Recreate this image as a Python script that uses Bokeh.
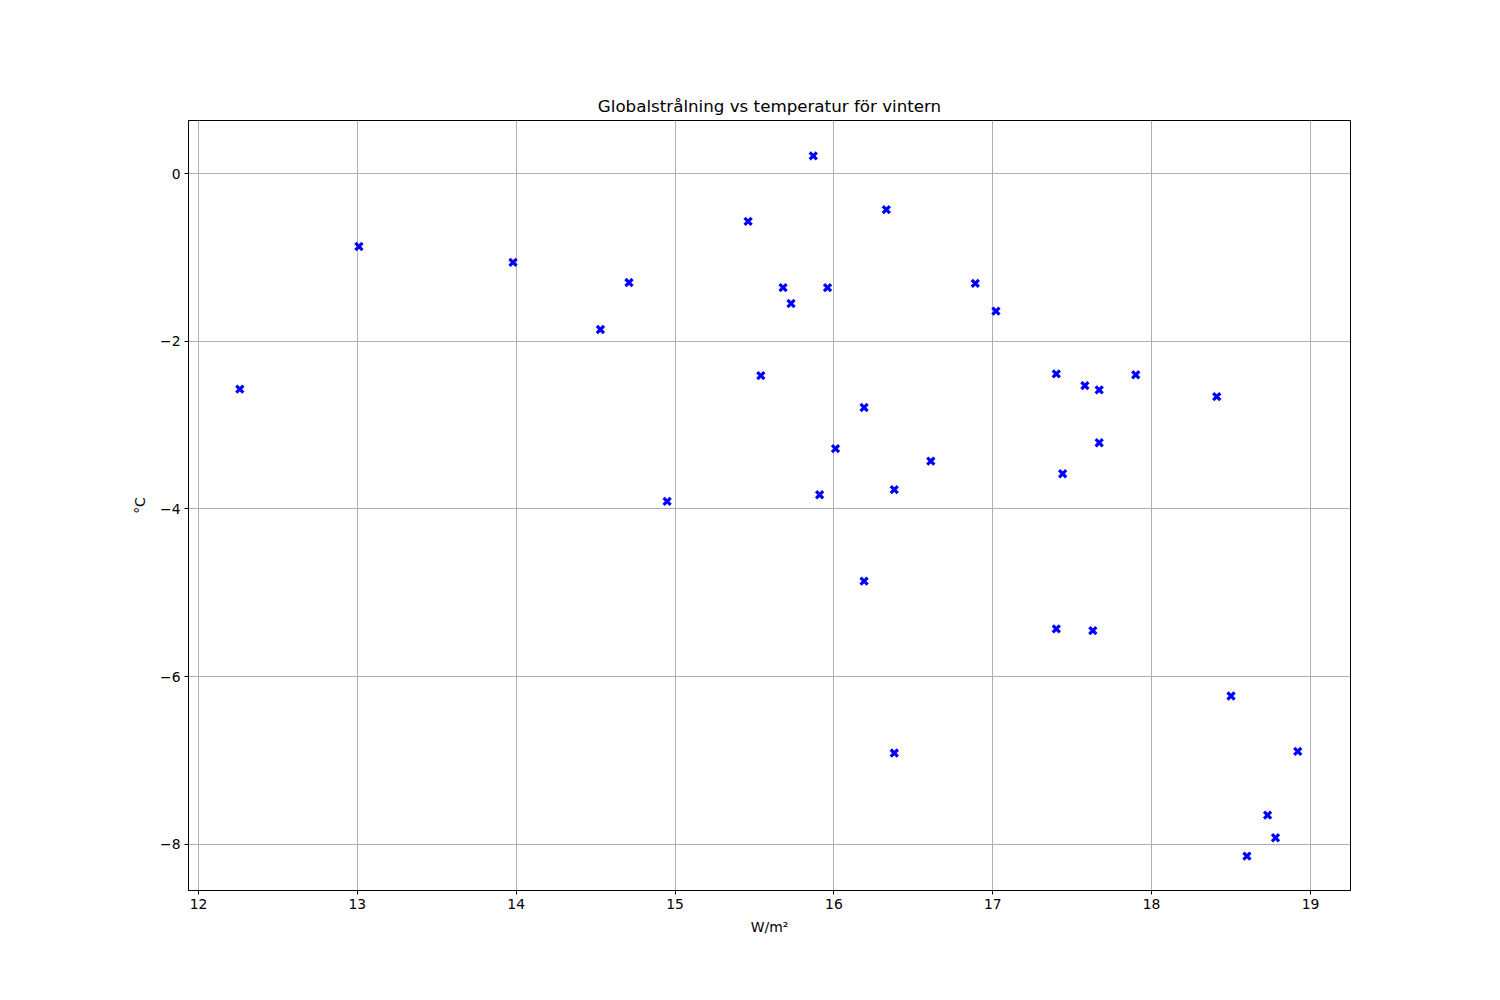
from bokeh.plotting import figure
from bokeh.models import FixedTicker, CustomJSTickFormatter, Range1d, ColumnDataSource
from bokeh.embed import file_html
from bokeh.resources import INLINE

radiation = [12.26, 13.01, 13.98, 14.53, 14.71, 14.95, 15.46, 15.54, 15.68, 15.73,
             15.87, 15.96, 15.91, 16.01, 16.19, 16.19, 16.33, 16.38, 16.38, 16.61,
             16.89, 17.02, 17.40, 17.40, 17.44, 17.58, 17.63, 17.67, 17.67, 17.90,
             18.41, 18.50, 18.73, 18.78, 18.60, 18.92]
temperature = [-2.57, -0.87, -1.06, -1.86, -1.30, -3.91, -0.57, -2.41, -1.36, -1.55,
               0.21, -1.36, -3.83, -3.28, -2.79, -4.86, -0.43, -3.77, -6.91, -3.43,
               -1.31, -1.64, -2.39, -5.43, -3.58, -2.53, -5.45, -2.58, -3.21, -2.40,
               -2.66, -6.23, -7.65, -7.92, -8.14, -6.89]
x_ticks = [12, 13, 14, 15, 16, 17, 18, 19]
y_ticks = [-8, -6, -4, -2, 0]

W, H = 1480, 980
p = figure(width=W, height=H, output_backend="svg", toolbar_location=None,
           x_range=Range1d(11.937, 19.252), y_range=Range1d(-8.549, 0.632),
           min_border_left=188, min_border_right=W - 1350,
           min_border_top=120, min_border_bottom=H - 890)

src = ColumnDataSource(dict(x=radiation, y=temperature))
p.scatter("x", "y", source=src, marker="x", size=10, line_width=3.2, line_color="blue")

p.title.text = "Globalstrålning vs temperatur för vintern"
p.title.align = "center"
p.title.text_font = "DejaVu Sans"
p.title.text_font_size = "16.7px"
p.title.text_font_style = "normal"
p.title.text_color = "black"
p.title.offset = 0

fmt = CustomJSTickFormatter(code="return tick < 0 ? '\u2212' + Math.abs(tick) : tick.toString();")
for ax, ticks, label in ((p.xaxis[0], x_ticks, "W/m²"), (p.yaxis[0], y_ticks, "°C")):
    ax.ticker = FixedTicker(ticks=ticks)
    ax.formatter = fmt
    ax.axis_label = label
    ax.axis_label_text_font = "DejaVu Sans"
    ax.axis_label_text_font_size = "13.9px"
    ax.axis_label_text_font_style = "normal"
    ax.axis_label_text_color = "black"
    ax.major_label_text_font = "DejaVu Sans"
    ax.major_label_text_font_size = "13.9px"
    ax.major_label_text_color = "black"
    ax.axis_line_color = "black"
    ax.major_tick_line_color = "black"
    ax.major_tick_out = 4
    ax.major_tick_in = 0
    ax.minor_tick_line_color = None
    ax.major_label_standoff = 4

p.xaxis[0].axis_label_standoff = 7
p.yaxis[0].axis_label_standoff = 9
p.yaxis[0].major_label_orientation = "horizontal"

p.xgrid.ticker = FixedTicker(ticks=x_ticks)
p.ygrid.ticker = FixedTicker(ticks=y_ticks)
p.grid.grid_line_color = "#b0b0b0"
p.grid.grid_line_alpha = 1.0
p.grid.grid_line_width = 1

p.outline_line_color = "black"
p.outline_line_alpha = 1.0
p.outline_line_width = 1
p.background_fill_color = "white"
p.border_fill_color = "white"

open("out.html", "w").write(file_html(p, INLINE))
